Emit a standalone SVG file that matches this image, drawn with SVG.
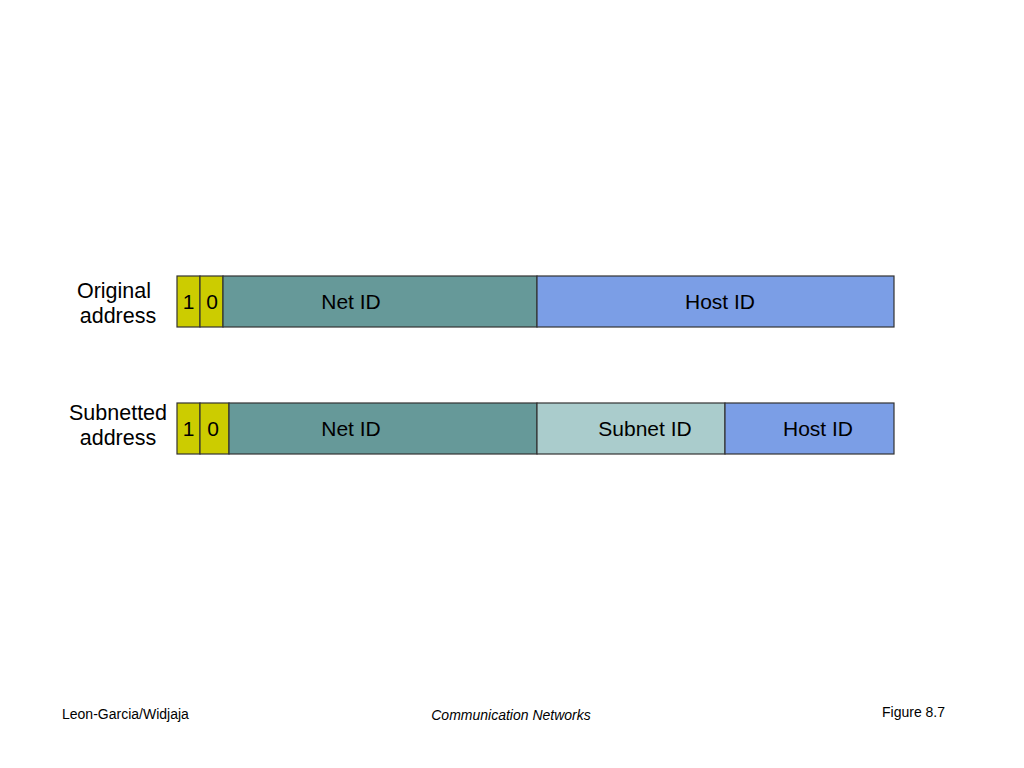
<svg xmlns="http://www.w3.org/2000/svg" width="1024" height="768" viewBox="0 0 1024 768">
<style>
text{font-family:"Liberation Sans",Arial,sans-serif;fill:#000}
.f{font-size:21px;text-anchor:middle}
.l{font-size:21.5px;text-anchor:middle}
.s{font-size:14px}
.b{stroke:#333;stroke-width:1.2}
.y{fill:#CCCC00}.t{fill:#669999}.h{fill:#7B9EE6}.sn{fill:#AACCCC}
</style>
<rect width="1024" height="768" fill="#fff"/>
<g id="label-original"><text class="l" x="114" y="298">Original</text><text class="l" x="118" y="323">address</text></g>
<g id="label-subnetted"><text class="l" x="118" y="420">Subnetted</text><text class="l" x="118" y="445">address</text></g>
<g id="orig-bit1"><rect class="b y" x="177" y="276" width="23" height="51"/><text class="f" x="188.5" y="309">1</text></g>
<g id="orig-bit0"><rect class="b y" x="200" y="276" width="23" height="51"/><text class="f" x="212" y="309">0</text></g>
<g id="orig-net"><rect class="b t" x="223" y="276" width="314" height="51"/><text class="f" x="351" y="309">Net ID</text></g>
<g id="orig-host"><rect class="b h" x="537" y="276" width="357" height="51"/><text class="f" x="720" y="309">Host ID</text></g>
<g id="sub-bit1"><rect class="b y" x="177" y="403" width="23" height="51"/><text class="f" x="188.5" y="436">1</text></g>
<g id="sub-bit0"><rect class="b y" x="200" y="403" width="29" height="51"/><text class="f" x="213" y="436">0</text></g>
<g id="sub-net"><rect class="b t" x="229" y="403" width="308" height="51"/><text class="f" x="351" y="436">Net ID</text></g>
<g id="sub-subnet"><rect class="b sn" x="537" y="403" width="188" height="51"/><text class="f" x="645" y="436">Subnet ID</text></g>
<g id="sub-host"><rect class="b h" x="725" y="403" width="169" height="51"/><text class="f" x="818" y="436">Host ID</text></g>
<g id="footer">
<text class="s" x="62" y="719">Leon-Garcia/Widjaja</text>
<text class="s" x="511" y="720" text-anchor="middle" font-style="italic">Communication Networks</text>
<text class="s" x="882" y="717">Figure 8.7</text>
</g>
</svg>
